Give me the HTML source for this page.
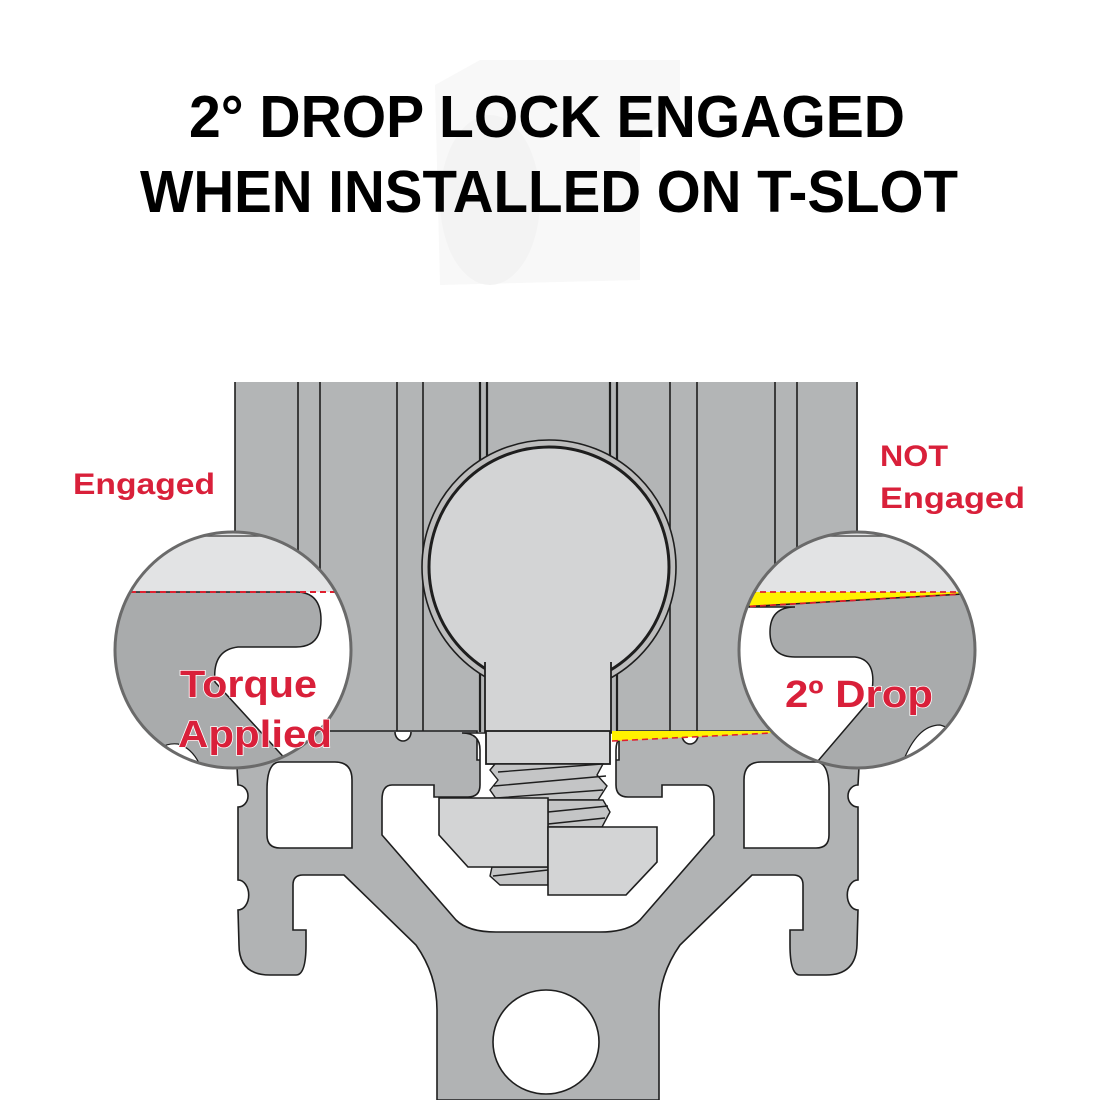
<!DOCTYPE html>
<html><head><meta charset="utf-8"><style>
html,body{margin:0;padding:0;background:#fff;}
svg{display:block;}
</style></head><body>
<svg width="1100" height="1100" viewBox="0 0 1100 1100" xmlns="http://www.w3.org/2000/svg">
<rect width="1100" height="1100" fill="#fff"/>
<!-- faint ghost part -->
<g fill="#f8f8f8" stroke="none">
<path d="M435,85 L480,60 L680,60 L680,110 L640,140 L640,280 L440,285 Z"/>
<ellipse cx="490" cy="200" rx="50" ry="85" fill="#f3f3f3"/>
</g>
<g font-family="Liberation Sans, sans-serif" font-weight="bold" fill="#000" font-size="59">
<text x="189" y="137" textLength="716" lengthAdjust="spacingAndGlyphs">2° DROP LOCK ENGAGED</text>
<text x="140" y="212" textLength="818" lengthAdjust="spacingAndGlyphs">WHEN INSTALLED ON T-SLOT</text>
</g>

<!-- upper housing -->
<rect x="235" y="382" width="623" height="350" fill="#b3b5b6"/>
<g stroke="#1e1e1e" stroke-width="1.6">
<line x1="235" y1="382" x2="235" y2="732"/>
<line x1="857" y1="382" x2="857" y2="732"/>
<line x1="298" y1="382" x2="298" y2="732"/>
<line x1="320" y1="382" x2="320" y2="732"/>
<line x1="397" y1="382" x2="397" y2="732"/>
<line x1="423" y1="382" x2="423" y2="732"/>
<line x1="670" y1="382" x2="670" y2="732"/>
<line x1="697" y1="382" x2="697" y2="732"/>
<line x1="775" y1="382" x2="775" y2="732"/>
<line x1="797" y1="382" x2="797" y2="732"/>
</g>
<g stroke="#1e1e1e" stroke-width="2.2" fill="none">
<path d="M480,382 L480,460 M487,382 L487,458 M610,382 L610,458 M617,382 L617,460"/>
<path d="M480,665 L480,732 M487,668 L487,732 M610,668 L610,732 M617,665 L617,732"/>
</g>
<!-- housing ring -->
<circle cx="549" cy="567" r="127" fill="#bdbdbd" stroke="#1e1e1e" stroke-width="1.6"/>
<rect x="487" y="640" width="123" height="92" fill="#bdbdbd"/>
<line x1="487" y1="668" x2="487" y2="732" stroke="#1e1e1e" stroke-width="2"/>
<line x1="610" y1="668" x2="610" y2="732" stroke="#1e1e1e" stroke-width="2"/>
<!-- ball -->
<circle cx="549" cy="567" r="120" fill="#d3d4d5" stroke="#1e1e1e" stroke-width="3"/>
<rect x="485" y="640" width="126" height="124" fill="#d3d4d5"/>
<path d="M485,662 L485,764 L611,764 L611,662" fill="none" stroke="#1e1e1e" stroke-width="1.8"/>

<!-- lower extrusion -->
<path d="M235,731 L477,731 L477,760 L619,760 L619,731 L861,731 L858,785 A10,11 0 0 0 858,807 L858,880 A10,14 0 0 0 858,910 L857,945 Q856,975 826,975 L800,975 Q790,975 790,945 L790,930 L803,930 L803,885 Q803,875 793,875 L752,875 L680,945 Q659,975 659,1010 L659,1100 L437,1100 L437,1010 Q437,975 416,945 L344,875 L303,875 Q293,875 293,885 L293,930 L306,930 L306,945 Q306,975 296,975 L270,975 Q239,975 239,945 L238,910 A10,14 0 0 0 238,880 L238,807 A10,11 0 0 0 238,785 Z" fill="#b1b3b4" stroke="#1e1e1e" stroke-width="1.6"/>
<g fill="#fff" stroke="#1e1e1e" stroke-width="1.6">
<path d="M280,762 L335,762 Q352,762 352,780 L352,848 L280,848 Q267,848 267,835 L267,790 Q267,762 280,762 Z"/>
<path d="M816,762 L761,762 Q744,762 744,780 L744,848 L816,848 Q829,848 829,835 L829,790 Q829,762 816,762 Z"/>
<path d="M392,785 L434,785 L434,797 L468,797 Q480,797 480,785 L480,750 Q480,733 462,733 L634,733 Q616,733 616,750 L616,785 Q616,797 628,797 L662,797 L662,785 L704,785 Q714,785 714,800 L714,835 L640,920 Q628,932 600,932 L496,932 Q468,932 456,920 L382,835 L382,800 Q382,785 392,785 Z"/>
<ellipse cx="546" cy="1042" rx="53" ry="52"/>
<path d="M395,732 A8,9 0 0 0 411,732"/>
<path d="M682,735 A8,9 0 0 0 698,735"/>
</g>
<!-- neck cover -->
<rect x="486" y="731" width="124" height="33" fill="#d3d4d5" stroke="#1e1e1e" stroke-width="1.8"/>
<!-- threads -->
<g fill="#c4c5c6" stroke="#1e1e1e" stroke-width="1.4">
<path d="M495,764 L603,764 L597,775 L607,786 L598,800 L497,800 L490,790 L498,780 L490,770 Z"/>
<path d="M498,772 L602,764 M494,786 L606,776 M496,798 L603,790" fill="none"/>
<path d="M548,800 L603,800 L610,812 L602,827 L548,827 Z"/>
<path d="M548,812 L608,806 M548,824 L605,818" fill="none"/>
<path d="M492,867 L548,867 L548,885 L500,885 L490,876 Z"/>
<path d="M493,876 L548,870" fill="none"/>
</g>
<!-- nuts -->
<path d="M439,798 L548,798 L548,867 L468,867 L439,835 Z" fill="#d3d4d5" stroke="#1e1e1e" stroke-width="1.6"/>
<path d="M548,827 L657,827 L657,862 L626,895 L548,895 Z" fill="#d3d4d5" stroke="#1e1e1e" stroke-width="1.6"/>
<!-- yellow strip -->
<path d="M612,731 L772,731 L772,733 L612,741 Z" fill="#fff200"/>
<line x1="612" y1="741" x2="772" y2="733" stroke="#e0202f" stroke-width="1.6" stroke-dasharray="6,4"/>

<!-- left lens -->
<defs>
<clipPath id="cl"><circle cx="233" cy="650" r="118"/></clipPath>
<clipPath id="cr"><circle cx="857" cy="650" r="118"/></clipPath>
</defs>
<g clip-path="url(#cl)">
<rect x="110" y="530" width="250" height="245" fill="#fff"/>
<rect x="110" y="530" width="250" height="62" fill="#e2e3e4"/>
<line x1="170" y1="536" x2="300" y2="536" stroke="#555" stroke-width="1.5"/>
<path d="M110,592 L296,592 Q321,592 321,620 Q321,647 296,647 L238,647 Q212,650 215,682 L300,775 L110,775 Z" fill="#a9abac" stroke="#1e1e1e" stroke-width="1.5"/>
<path d="M150,760 Q160,742 178,744 Q192,748 200,765 Z" fill="#fff" stroke="#1e1e1e" stroke-width="1.2"/>
<line x1="110" y1="592" x2="345" y2="592" stroke="#e0202f" stroke-width="2" stroke-dasharray="6,4"/>
</g>
<circle cx="233" cy="650" r="118" fill="none" stroke="#6a6a6a" stroke-width="3"/>

<!-- right lens -->
<g clip-path="url(#cr)">
<rect x="735" y="530" width="250" height="245" fill="#fff"/>
<rect x="735" y="530" width="250" height="63" fill="#e2e3e4"/>
<line x1="795" y1="536" x2="925" y2="536" stroke="#555" stroke-width="1.5"/>
<path d="M740,592 L980,592 L980,593 L740,607 Z" fill="#fff200"/>
<path d="M740,607 L980,593 L980,775 L806,775 L870,700 Q880,660 855,657 L795,657 Q770,657 770,632 Q770,607 795,607 Z" fill="#a9abac" stroke="#1e1e1e" stroke-width="1.5"/>
<path d="M900,770 Q915,725 940,725 Q960,730 965,760 Z" fill="#fff" stroke="#1e1e1e" stroke-width="1.2"/>
<line x1="740" y1="592" x2="980" y2="592" stroke="#e0202f" stroke-width="1.8" stroke-dasharray="6,4"/>
<line x1="740" y1="607" x2="980" y2="593" stroke="#e0202f" stroke-width="1.8" stroke-dasharray="6,4"/>
</g>
<circle cx="857" cy="650" r="118" fill="none" stroke="#6a6a6a" stroke-width="3"/>

<!-- labels -->
<g font-family="Liberation Sans, sans-serif" font-weight="bold" fill="#d9203a">
<text x="73" y="494" font-size="30" textLength="142" lengthAdjust="spacingAndGlyphs">Engaged</text>
<text x="880" y="466" font-size="30" textLength="68" lengthAdjust="spacingAndGlyphs">NOT</text>
<text x="880" y="508" font-size="30" textLength="145" lengthAdjust="spacingAndGlyphs">Engaged</text>
<g font-size="38" stroke="#fff" stroke-width="1.5" paint-order="stroke">
<text x="180" y="697" textLength="137" lengthAdjust="spacingAndGlyphs">Torque</text>
<text x="178" y="747" textLength="154" lengthAdjust="spacingAndGlyphs">Applied</text>
<text x="785" y="707" textLength="148" lengthAdjust="spacingAndGlyphs">2º Drop</text>
</g>
</g>
</svg>
</body></html>
